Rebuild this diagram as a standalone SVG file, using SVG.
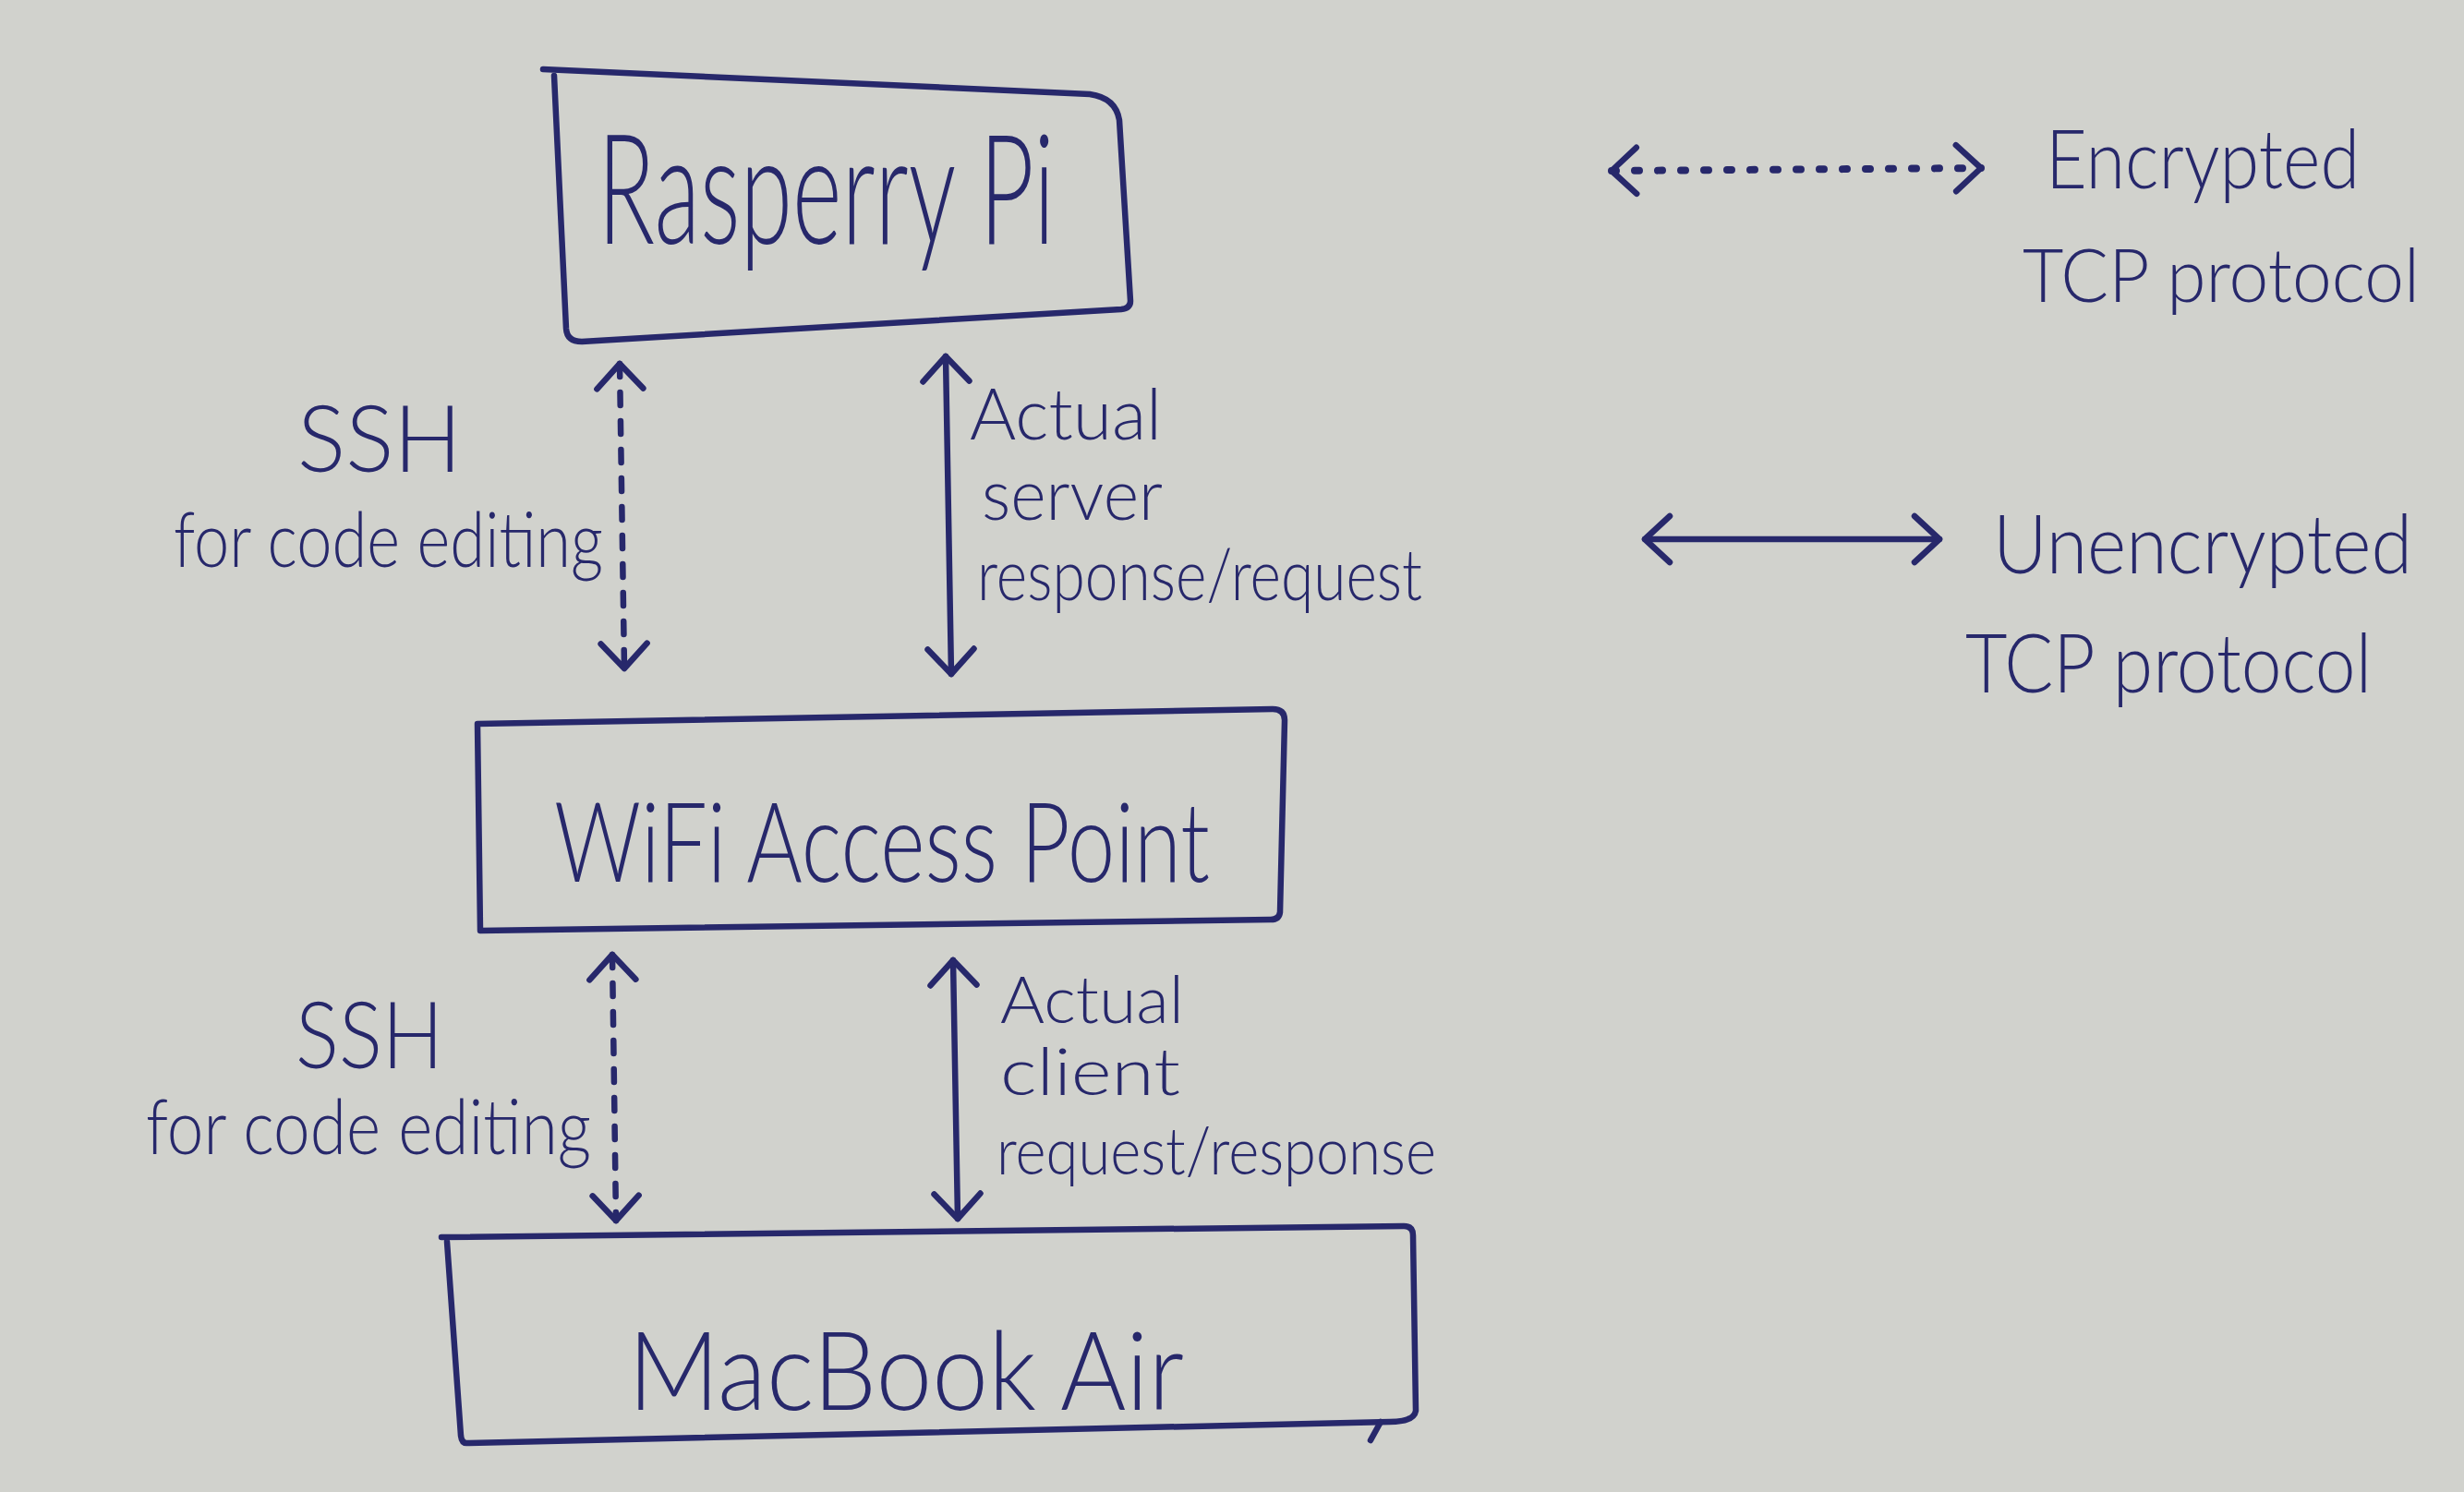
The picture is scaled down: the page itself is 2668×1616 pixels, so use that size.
<svg xmlns="http://www.w3.org/2000/svg" width="2668" height="1616" viewBox="0 0 2668 1616">
  <defs>
    <style>
      .ink { fill: none; stroke: #27286b; stroke-width: 6.5; stroke-linecap: round; stroke-linejoin: round; }
      .dash { stroke-dasharray: 14 17; }
      .dots { stroke-dasharray: 5 20; stroke-width: 8; }
      .txt { fill: #27286b; font-family: Lato, "Liberation Sans", sans-serif; font-weight: 300; }
    </style>
    <marker id="chev" viewBox="-40 -35 50 70" markerWidth="50" markerHeight="70" markerUnits="userSpaceOnUse" refX="0" refY="0" orient="auto-start-reverse">
      <path d="M-27,-25 L0,0 L-27,25" fill="none" stroke="#27286b" stroke-width="6.5" stroke-linecap="round" stroke-linejoin="round"/>
    </marker>
  </defs>

  <rect x="0" y="0" width="2668" height="1616" fill="#d1d2cd"/>

  <g id="node-raspberry-pi">
    <path class="ink" d="M 588,75 L 1180,102 Q 1208,106 1212,130 L 1224,326 Q 1224,334 1214,335 L 630,370 Q 614,370 613,356 L 600,82"/>
    <text class="txt" x="647" y="264" font-size="165" textLength="495" lengthAdjust="spacingAndGlyphs">Rasperry Pi</text>
  </g>

  <g id="node-wifi-ap">
    <path class="ink" d="M 517,784 L 1378,768 Q 1391,768 1391,780 L 1386,988 Q 1385,996 1376,996 L 520,1008 L 517,784"/>
    <text class="txt" x="600" y="955" font-size="120" textLength="710" lengthAdjust="spacingAndGlyphs">WiFi Access Point</text>
  </g>

  <g id="node-macbook">
    <path class="ink" d="M 478,1340 L 1520,1328 Q 1530,1328 1530,1338 L 1533,1528 Q 1531,1540 1505,1540 L 505,1563 Q 500,1563 499,1555 L 484,1345"/>
    <path class="ink" d="M 1495,1540 L 1484,1560"/>
    <text class="txt" x="680" y="1527" font-size="118" textLength="602" lengthAdjust="spacingAndGlyphs">MacBook Air</text>
  </g>

  <g id="connectors">
    <line class="ink dash" x1="671" y1="394" x2="676" y2="724" marker-start="url(#chev)" marker-end="url(#chev)"/>
    <line class="ink" x1="1024" y1="386" x2="1030" y2="730" marker-start="url(#chev)" marker-end="url(#chev)"/>
    <line class="ink dash" x1="663" y1="1034" x2="667" y2="1322" marker-start="url(#chev)" marker-end="url(#chev)"/>
    <line class="ink" x1="1032" y1="1040" x2="1037" y2="1320" marker-start="url(#chev)" marker-end="url(#chev)"/>
  </g>

  <g id="edge-labels">
    <text class="txt" x="322" y="511" font-size="100" textLength="178" lengthAdjust="spacingAndGlyphs">SSH</text>
    <text class="txt" x="188" y="614" font-size="82" textLength="465" lengthAdjust="spacingAndGlyphs">for code editing</text>
    <text class="txt" x="1050" y="476" font-size="76" textLength="208" lengthAdjust="spacingAndGlyphs">Actual</text>
    <text class="txt" x="1063" y="563" font-size="76" textLength="196" lengthAdjust="spacingAndGlyphs">server</text>
    <text class="txt" x="1058" y="650" font-size="76" textLength="482" lengthAdjust="spacingAndGlyphs">response/request</text>

    <text class="txt" x="320" y="1157" font-size="100" textLength="160" lengthAdjust="spacingAndGlyphs">SSH</text>
    <text class="txt" x="158" y="1250" font-size="82" textLength="482" lengthAdjust="spacingAndGlyphs">for code editing</text>
    <text class="txt" x="1083" y="1108" font-size="70" textLength="199" lengthAdjust="spacingAndGlyphs">Actual</text>
    <text class="txt" x="1083" y="1186" font-size="70" textLength="195" lengthAdjust="spacingAndGlyphs">client</text>
    <text class="txt" x="1079" y="1272" font-size="70" textLength="476" lengthAdjust="spacingAndGlyphs">request/response</text>
  </g>

  <g id="legend">
    <line class="ink dots" x1="1745" y1="185" x2="2145" y2="182" marker-start="url(#chev)" marker-end="url(#chev)"/>
    <text class="txt" x="2215" y="204" font-size="88" textLength="340" lengthAdjust="spacingAndGlyphs">Encrypted</text>
    <text class="txt" x="2190" y="327" font-size="80" textLength="430" lengthAdjust="spacingAndGlyphs">TCP protocol</text>

    <line class="ink" x1="1781" y1="584" x2="2100" y2="584" stroke-width="8" marker-start="url(#chev)" marker-end="url(#chev)"/>
    <text class="txt" x="2158" y="621" font-size="88" textLength="454" lengthAdjust="spacingAndGlyphs">Unencrypted</text>
    <text class="txt" x="2128" y="750" font-size="88" textLength="440" lengthAdjust="spacingAndGlyphs">TCP protocol</text>
  </g>
</svg>
